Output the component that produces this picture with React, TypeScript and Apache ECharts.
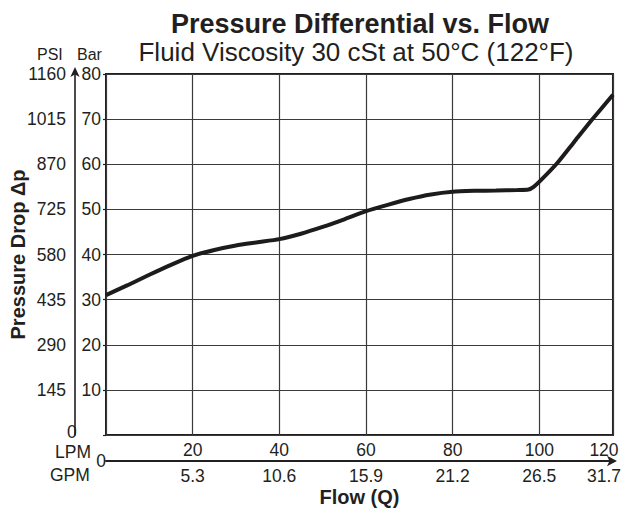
import React, { useEffect, useRef } from "react";
import * as echarts from "echarts";

const TITLE = "Pressure Differential vs. Flow";
const SUBTITLE = "Fluid Viscosity 30 cSt at 50°C (122°F)";
const X_NAME = "Flow (Q)";
const Y_NAME = "Pressure Drop Δp";

// x axis: flow in LPM; plot ends at about 117 LPM (right border)
const LPM_LABELS = ["", "20", "40", "60", "80", "100", "120"];
const GPM_LABELS = ["", "5.3", "10.6", "15.9", "21.2", "26.5", "31.7"];
const X_MAX = 117;
const X_INTERVAL = 20;

// y axes
const BAR_MAX = 80;
const BAR_INTERVAL = 10;
const PSI_MAX = 1160;
const PSI_INTERVAL = 145;

// curve: [flow LPM, pressure drop bar]
const FLOW = [0, 5, 10, 15, 20, 25, 30, 35, 40, 45, 50, 55, 60, 65, 70, 75, 80, 85, 90, 95, 97.5, 98.7, 100.2, 104, 108, 112, 117];
const DROP = [31.0, 33.2, 35.5, 37.7, 39.7, 41.0, 42.0, 42.7, 43.4, 44.6, 46.1, 47.8, 49.6, 51.0, 52.3, 53.3, 53.9, 54.1, 54.2, 54.3, 54.4, 55.0, 56.3, 60.1, 64.9, 69.7, 75.4];

const INK = "#231f20";
const FONT = "'Liberation Sans', Arial, Helvetica, sans-serif";
const TICK_FS = 17.5;

export default function App() {
  const ref = useRef<HTMLDivElement>(null);
  useEffect(() => {
    if (!ref.current) return;
    const chart = echarts.init(ref.current, null, { renderer: "svg" });
    const data = FLOW.map((f, i) => [f, DROP[i]]);
    const labelStyle = { fontSize: TICK_FS, color: INK, fontFamily: FONT };
    chart.setOption({
      animation: false,
      textStyle: { fontFamily: FONT, color: INK },
      title: [
        {
          text: TITLE,
          left: 355,
          top: 5,
          textAlign: "center",
          textStyle: { fontSize: 27, fontWeight: "bold", color: INK, fontFamily: FONT },
        },
        {
          text: SUBTITLE,
          left: 351,
          top: 34,
          textAlign: "center",
          textStyle: { fontSize: 26, fontWeight: "normal", color: INK, fontFamily: FONT },
        },
      ],
      grid: {
        left: 103,
        right: 11,
        top: 74,
        bottom: 78,
        show: true,
        borderColor: INK,
        borderWidth: 2,
        backgroundColor: "transparent",
      },
      xAxis: [
        {
          type: "value",
          position: "bottom",
          min: 0,
          max: X_MAX,
          interval: X_INTERVAL,
          axisLine: { show: false, onZero: false },
          axisTick: { show: false },
          splitLine: { show: true, lineStyle: { color: "#3a3a3a", width: 1.2 } },
          axisLabel: {
            ...labelStyle,
            margin: 6,
            formatter: (v: number, i: number) =>
              v >= X_MAX ? `{e|${LPM_LABELS[i]}}` : LPM_LABELS[i] ?? "",
            rich: { e: { ...labelStyle, padding: [0, 18, 0, 0] } },
          },
          name: X_NAME,
          nameLocation: "middle",
          nameGap: 52,
          nameTextStyle: { fontSize: 20, fontWeight: "bold", color: INK, fontFamily: FONT },
        },
        {
          type: "value",
          position: "bottom",
          offset: 26,
          min: 0,
          max: X_MAX,
          interval: X_INTERVAL,
          axisLine: {
            show: true,
            onZero: false,
            symbol: ["none", "arrow"],
            symbolSize: [8, 10],
            symbolOffset: [0, 4],
            lineStyle: { color: INK, width: 2 },
          },
          axisTick: { show: false },
          splitLine: { show: false },
          axisLabel: {
            ...labelStyle,
            margin: 6,
            formatter: (v: number, i: number) =>
              v >= X_MAX ? `{e|${GPM_LABELS[i]}}` : GPM_LABELS[i] ?? "",
            rich: { e: { ...labelStyle, padding: [0, 18, 0, 0] } },
          },
          name: "0",
          nameLocation: "start",
          nameGap: 0,
          nameTextStyle: { fontSize: TICK_FS, color: INK, fontFamily: FONT },
        },
      ],
      yAxis: [
        {
          type: "value",
          position: "left",
          min: 0,
          max: BAR_MAX,
          interval: BAR_INTERVAL,
          axisLine: { show: false, onZero: false },
          axisTick: { show: true, length: 3, lineStyle: { color: INK, width: 1.2 } },
          splitLine: { show: true, lineStyle: { color: "#3a3a3a", width: 1.2 } },
          axisLabel: {
            ...labelStyle,
            margin: 5,
            formatter: (v: number) => (v === 0 ? "" : String(v)),
          },
          name: Y_NAME,
          nameLocation: "middle",
          nameRotate: 90,
          nameGap: 78,
          nameTextStyle: { fontSize: 20, fontWeight: "bold", color: INK, fontFamily: FONT },
        },
        {
          type: "value",
          position: "left",
          offset: 31,
          min: 0,
          max: PSI_MAX,
          interval: PSI_INTERVAL,
          axisLine: {
            show: true,
            onZero: false,
            symbol: ["none", "arrow"],
            symbolSize: [7, 10],
            symbolOffset: [0, 7],
            lineStyle: { color: INK, width: 1.6 },
          },
          axisTick: { show: false },
          splitLine: { show: false },
          axisLabel: {
            ...labelStyle,
            margin: 9,
            formatter: (v: number) => (v === 0 ? "" : String(v)),
          },
        },
      ],
      graphic: [
        { type: "text", left: 37, top: 46, style: { text: "PSI", font: `16px ${FONT}`, fill: INK } },
        { type: "text", left: 77, top: 46, style: { text: "Bar", font: `16px ${FONT}`, fill: INK } },
        { type: "text", left: 67, top: 423, style: { text: "0", font: `${TICK_FS}px ${FONT}`, fill: INK } },
        { type: "text", left: 55, top: 443, style: { text: "LPM", font: `${TICK_FS}px ${FONT}`, fill: INK } },
        { type: "text", left: 50, top: 466, style: { text: "GPM", font: `${TICK_FS}px ${FONT}`, fill: INK } },
      ],
      series: [
        {
          type: "line",
          xAxisIndex: 0,
          yAxisIndex: 0,
          data,
          showSymbol: false,
          smooth: 0.2,
          lineStyle: { color: "#1e1b1c", width: 4 },
        },
      ],
    });
    return () => chart.dispose();
  }, []);
  return (
    <div
      ref={ref}
      style={{ position: "fixed", left: 0, top: 0, width: 624, height: 513, background: "#fff" }}
    />
  );
}
